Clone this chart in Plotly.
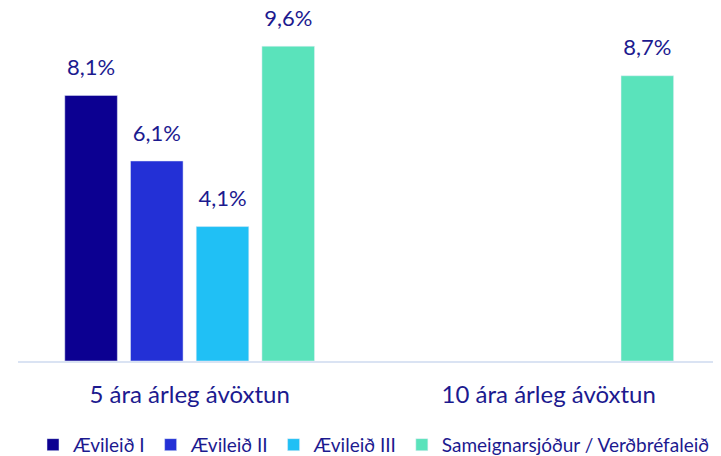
import plotly.graph_objects as go

categories = ["5 ára árleg ávöxtun", "10 ára árleg ávöxtun"]
series_names = ["Ævileið I", "Ævileið II", "Ævileið III", "Sameignarsjóður / Verðbréfaleið"]
series_values = [
    [8.1, None],
    [6.1, None],
    [4.1, None],
    [9.6, 8.7],
]
colors = ["#0c0091", "#2330d6", "#20c0f5", "#5ae3bb"]

text_color = "#1c1a8f"
font_family = "Lato, 'Open Sans', sans-serif"

fig = go.Figure()
for i, (name, vals, col) in enumerate(zip(series_names, series_values, colors)):
    fig.add_trace(go.Bar(
        name=name, x=categories, y=vals, marker_color=col,
        offsetgroup=str(i), hoverinfo="skip", legendgroup=name,
    ))
for i, (name, vals) in enumerate(zip(series_names, series_values)):
    labels = [("" if v is None else f"{v:.1f}".replace(".", ",") + "%") for v in vals]
    fig.add_trace(go.Scatter(
        x=categories, y=vals, mode="markers+text", text=labels,
        textposition="top center", offsetgroup=str(i),
        marker=dict(size=22, color="rgba(0,0,0,0)"),
        textfont=dict(color=text_color, size=22, family=font_family),
        showlegend=False, hoverinfo="skip", cliponaxis=False, legendgroup=name,
    ))

fig.update_layout(
    width=721, height=456,
    margin=dict(l=10, r=0, t=12, b=95),
    plot_bgcolor="white", paper_bgcolor="white",
    barmode="group", bargap=0.268, bargroupgap=0.2,
    scattermode="group", scattergap=0.268,
    font=dict(family=font_family, color=text_color, size=19),
    showlegend=True,
    legend=dict(orientation="h", x=0.5, xanchor="center", y=-0.19, yanchor="top",
                font=dict(size=19, color=text_color), itemwidth=30,
                traceorder="normal"),
    xaxis=dict(showline=True, linecolor="#dae3f3", linewidth=2, ticks="",
               range=[-0.478, 1.502],
               tickfont=dict(size=24, color=text_color), ticklabelstandoff=11),
    yaxis=dict(range=[0, 10.4], visible=False, showgrid=False),
)

fig.write_html("out.html")
